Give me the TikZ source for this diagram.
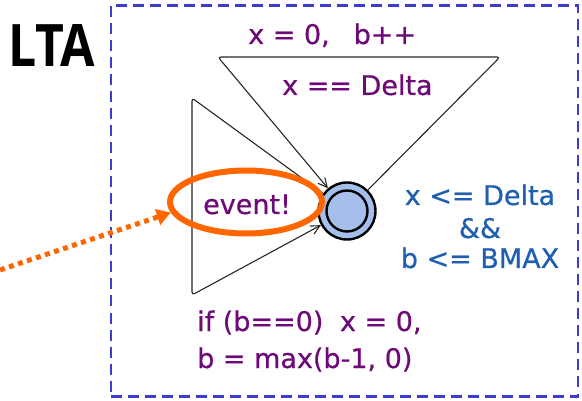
\documentclass[tikz,border=0pt]{standalone}
\usepackage{fontspec}
\usepackage{graphicx}
\setmainfont{DejaVu Sans}[FakeBold=0.6]
\newfontfamily\titlefont{Open Sans}
\usetikzlibrary{arrows.meta,shapes.geometric}
\definecolor{purp}{RGB}{110,10,120}
\definecolor{bluetxt}{RGB}{30,95,175}
\definecolor{orng}{RGB}{255,102,0}
\definecolor{statefill}{RGB}{165,190,235}
\definecolor{boxblue}{RGB}{60,60,205}
\begin{document}
\begin{tikzpicture}[x=1pt,y=-1pt,
  lbl/.style={text=purp,font=\fontsize{27}{31}\selectfont,inner sep=0pt,anchor=base west},
  inv/.style={text=bluetxt,font=\fontsize{27}{31}\selectfont,inner sep=0pt,anchor=base},
  edge/.style={draw=black!85,line width=1.1pt,rounded corners=3pt,-{Straight Barb[length=9pt,width=9pt]}},
  statenode/.style={circle,draw=black,line width=2.4pt,fill=statefill,minimum size=57pt,inner sep=0pt},
  innernode/.style={circle,draw=black,line width=2.4pt,minimum size=41pt,inner sep=0pt}]
\useasboundingbox (0,0) rectangle (582,401);
% frame
\node[draw=boxblue,line width=2.6pt,dash pattern=on 11pt off 6pt,minimum width=467pt,minimum height=391pt,inner sep=0pt] (frame) at (344.5,201) {};
% title
\node[inner sep=0pt,anchor=base west] (title) at (8,67) {\resizebox{87pt}{42pt}{\titlefont\bfseries LTA}};
% state
\node[statenode] (s) at (347,211) {};
\node[innernode] (si) at (347,211) {};
% loop corners
\coordinate (t1) at (500,57);
\coordinate (t2) at (218,57);
\coordinate (l1) at (192,98);
\coordinate (l2) at (192,295);
\draw[edge] (s) -- (t1) -- (t2) -- (s);
\draw[edge] (s) -- (l1) -- (l2) -- (s);
% labels
\node[lbl] (upd1) at (248,44) {x = 0,\hspace{24pt}b++};
\node[lbl] (grd1) at (282,95) {x == Delta};
\node[lbl] (grd2) at (197,331) {if (b==0)\hspace{8pt} x = 0,};
\node[lbl] (upd2) at (197,368) {b = max(b-1, 0)};
\node[lbl] (ev) at (203,214) {event!};
% invariant
\node[inv] (inv1) at (480,205) {x <= Delta};
\node[inv] (inv2) at (480,238) {\&\&};
\node[inv] (inv3) at (480,268) {b <= BMAX};
% highlight
\node[draw=orng,line width=6pt,ellipse,minimum width=152pt,minimum height=63pt,inner sep=0pt] (hl) at (246,202) {};
\coordinate (src) at (0,270);
\draw[orng,line width=5pt,dash pattern=on 5pt off 4.5pt,-{Triangle[length=14pt,width=16pt]}] (src) -- (hl.188);
\end{tikzpicture}
\end{document}
